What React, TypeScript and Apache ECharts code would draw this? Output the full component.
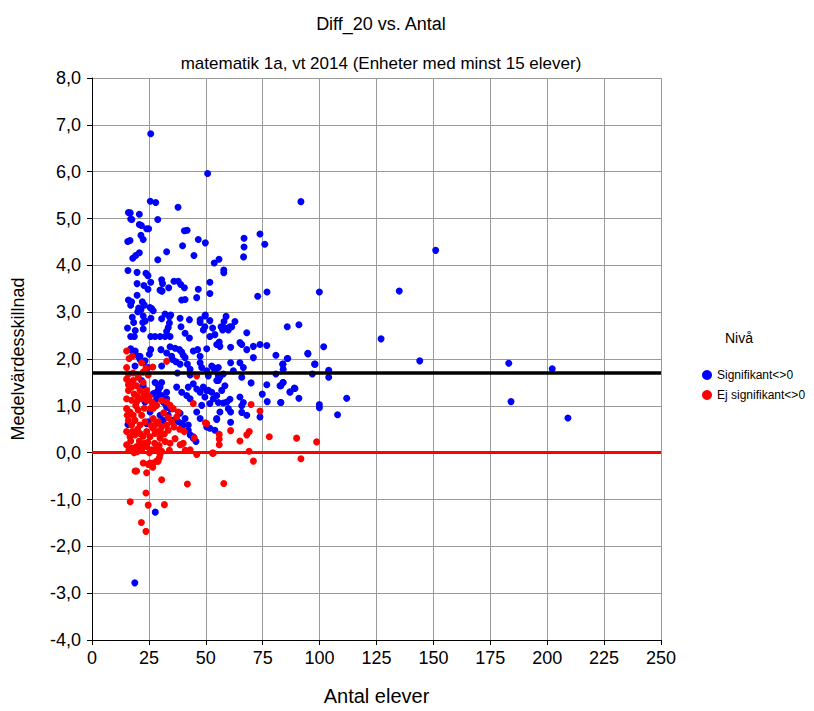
import React, { useEffect, useRef } from "react";
import * as echarts from "echarts";

const xTicks = [0, 25, 50, 75, 100, 125, 150, 175, 200, 225, 250];
const yTicks = [-4, -3, -2, -1, 0, 1, 2, 3, 4, 5, 6, 7, 8];
const meanLine = 1.7;
const zeroLine = 0;

const significant: number[][] = [
  [25.8,6.81],[50.8,5.96],[25.6,5.37],[28.0,5.34],[37.8,5.24],[16.0,5.13],[16.8,5.12],[20.8,5.09],[17.0,4.99],[17.5,4.98],[28.9,4.98],[20.8,4.87],[21.7,4.85],[24.0,4.78],[24.9,4.78],[40.6,4.74],[41.8,4.75],[21.5,4.64],[22.5,4.55],[15.7,4.51],[16.7,4.53],[46.7,4.55],[49.8,4.48],[66.8,4.58],[66.8,4.39],[66.6,4.18],[73.8,4.67],[75.9,4.45],[39.8,4.42],[44.8,4.21],[32.8,4.29],[20.8,4.27],[19.2,4.21],[17.9,4.15],[28.9,4.12],[53.7,4.05],[55.8,4.13],[57.9,3.90],[57.9,3.84],[15.8,3.89],[19.8,3.85],[23.7,3.83],[24.6,3.78],[19.8,3.61],[22.8,3.57],[25.8,3.64],[30.6,3.69],[31.0,3.61],[33.7,3.52],[30.6,3.45],[36.0,3.66],[37.9,3.66],[39.0,3.59],[40.6,3.52],[46.7,3.49],[51.8,3.64],[51.8,3.40],[24.6,3.49],[19.8,3.36],[72.8,3.34],[76.9,3.43],[46.0,3.31],[29.9,3.47],
  [91.8,5.36],[151.0,4.32],[99.9,3.43],[135.0,3.45],[85.8,2.69],[90.9,2.73],[127.0,2.43],[101.8,2.26],[94.9,2.11],[85.8,2.01],[83.9,1.89],[97.8,1.89],[144.0,1.96],[183.1,1.91],[202.2,1.79],[104.0,1.76],[104.0,1.61],[96.8,1.68],[83.9,1.50],[83.0,1.43],[88.9,1.38],[87.0,1.30],[90.9,1.16],[83.0,1.07],[99.9,1.03],[99.9,0.96],[111.9,1.16],[107.9,0.81],[184.1,1.09],[209.1,0.74],
  [49.8,2.94],[51.8,2.82],[58.9,2.91],[62.8,2.80],[56.7,2.69],[60.6,2.69],
  [30.8,3.45],[39.4,3.26],[40.9,3.27],[16.0,3.26],[17.4,3.22],[17.0,3.15],[22.1,3.22],[23.0,3.15],[20.5,3.09],[21.5,3.05],[20.1,3.01],[26.2,3.08],[26.9,3.03],[25.5,3.10],[32.1,2.96],[34.6,2.94],[34.0,2.90],[22.5,2.92],[23.4,2.81],[22.3,2.78],[17.7,2.89],[18.3,2.78],[25.9,2.87],[30.6,2.86],[38.7,2.87],[42.8,2.84],[47.5,2.84],[49.6,2.92],[34.0,2.77],[33.5,2.67],[32.8,2.59],[15.6,2.66],[19.0,2.61],[22.5,2.64],[25.8,2.48],[27.7,2.48],[29.9,2.48],[32.1,2.48],[34.3,2.48],[17.0,2.48],[18.6,2.48],[39.1,2.69],[40.9,2.55],[42.8,2.45],[47.5,2.78],[49.6,2.69],[48.9,2.62],[53.0,2.66],[54.0,2.52],[51.8,2.48],[58.0,2.80],[59.9,2.62],[54.8,2.31],[55.9,2.36],[56.2,2.27],[17.0,2.22],[17.7,2.17],[18.9,2.10],[20.3,2.06],[21.1,1.99],[22.8,1.92],[25.8,2.20],[25.2,2.10],[30.3,2.20],[34.3,2.26],[36.5,2.23],[38.4,2.20],[32.8,2.13],[35.0,2.06],[39.4,2.15],[40.1,2.08],[40.9,2.03],[44.5,2.17],[46.4,2.20],[47.5,2.06],[50.4,2.22],[35.4,1.99],[36.9,1.94],[38.7,1.89],[41.9,1.89],[43.1,1.78],[47.5,1.92],[48.2,1.82],[52.6,1.85],[54.0,1.75],[55.5,1.82],[24.7,1.82],[30.6,1.85],[37.5,1.70],[43.1,1.66],[51.1,1.64],[55.5,1.64],
  [27.7,1.50],[29.9,1.40],[29.1,1.33],[26.9,1.26],[30.6,1.22],[28.4,1.15],[32.8,1.15],[31.3,1.08],[37.2,1.40],[39.4,1.29],[42.3,1.40],[44.5,1.47],[46.0,1.36],[47.5,1.29],[41.6,1.22],[43.1,1.15],[50.4,1.33],[52.6,1.29],[54.8,1.22],[57.0,1.33],[58.4,1.43],[55.5,1.54],[38.7,0.84],[40.9,0.73],[42.3,0.59],[39.4,0.62],[46.0,0.87],[47.5,0.73],[50.4,0.55],[51.8,0.52],[54.0,0.48],[54.8,0.73],[56.2,0.87],[32.8,0.97],[35.0,0.94],[29.9,0.80],[31.3,0.69],[25.5,0.87],[24.0,0.62],[15.8,0.60],[59.2,1.08],[59.9,0.94],
  [57.4,2.62],[58.4,2.66],[61.4,2.69],[68.0,2.56],[60.9,2.25],[65.0,2.35],[65.8,2.31],[68.0,2.20],[70.9,2.03],[70.9,2.27],[73.8,2.31],[76.8,2.29],[80.8,2.08],[86.0,2.01],[83.8,1.89],[94.8,2.12],[98.0,1.89],[60.9,1.92],[65.0,1.92],[66.5,1.82],[62.1,1.75],[65.8,1.61],[50.4,1.75],[53.3,1.82],[57.7,1.68],[56.2,1.61],[54.8,1.54],[80.8,1.68],[84.0,1.78],[69.9,1.49],[76.8,1.45],[82.6,1.43],[84.0,1.50],[87.0,1.29],[89.2,1.37],[74.8,1.25],[48.9,1.40],[51.1,1.33],[53.3,1.15],[55.5,1.07],[57.7,1.06],[49.6,1.19],[48.2,1.01],[51.8,1.05],[60.6,1.14],[65.0,1.19],[66.5,1.07],[65.8,1.00],[77.0,1.09],[82.9,1.07],[60.9,0.87],[65.8,0.86],[68.0,0.80],[73.8,0.76],[54.8,0.71],[60.9,0.65],
  [27.8,-1.27],[18.8,-2.78],[45.7,0.24],[44.5,0.34],
  [19.0,2.17],[21.1,2.06],[23.3,1.96],[18.9,1.85],[21.8,1.54],[22.5,1.43],[24.0,1.22],[23.3,1.08],[24.7,0.66],
  [29.1,1.43],[30.6,1.50],[28.4,1.29],[32.8,1.29],[29.9,1.19],[32.1,1.05],[34.3,0.94],[33.5,0.80],[35.7,0.69],[37.9,0.66],[40.1,0.59],[42.3,0.48],[43.1,0.38],[44.5,0.31]
];

const notSignificant: number[][] = [
  [15.2,2.17],[16.3,2.01],[15.2,1.82],[17.7,2.06],[21.8,1.92],[23.7,1.80],[26.7,1.83],[32.8,1.95],[46.0,1.64],
  [16.0,1.68],[18.1,1.70],[20.3,1.66],[22.5,1.72],[24.7,1.66],
  [15.2,1.57],[16.7,1.50],[18.1,1.54],[20.3,1.61],[22.5,1.50],[19.6,1.43],[17.4,1.40],[16.0,1.33],[21.1,1.33],[24.0,1.33],
  [15.2,1.15],[17.4,1.12],[19.6,1.08],[21.8,1.15],[24.0,1.12],[26.2,1.08],[28.4,1.01],[30.6,1.12],[32.8,1.08],[34.3,1.01],[35.7,0.94],[37.9,0.87],
  [15.2,0.94],[16.7,0.87],[18.1,0.80],[20.3,0.91],[21.8,0.80],[18.9,0.69],[16.0,0.69],[17.4,0.59],[21.1,0.59],[23.3,0.66],[26.9,0.73],[29.1,0.66],[30.6,0.55],[32.8,0.59],[35.0,0.66],[37.2,0.76],
  [15.2,0.45],[16.7,0.34],[18.9,0.38],[21.1,0.41],[24.0,0.45],[25.5,0.34],[27.7,0.41],[29.9,0.31],[32.1,0.24],[34.3,0.20],[38.7,0.17],[40.1,0.20],[43.1,0.06],
  [15.2,0.17],[17.4,0.10],[19.6,0.13],[21.8,0.06],[24.0,0.13],[26.2,0.06],[28.4,0.10],[30.6,0.03],
  [44.5,1.05],[50.4,0.62],[44.9,0.32],
  [22.5,-0.22],[24.7,-0.25],[26.9,-0.22],[29.1,-0.18],[19.6,-0.39],
  [39.4,0.18],[46.0,-0.04],[53.3,-0.01],
  [69.9,1.03],[73.8,0.89],[49.8,0.64],[55.9,0.39],[55.9,0.29],[55.9,0.17],[60.9,0.47],[65.0,0.25],[68.0,0.38],[69.1,0.45],[77.9,0.34],[89.9,0.31],[98.7,0.23],[52.9,-0.01],[69.0,0.03],[70.9,-0.18],[91.8,-0.13],
  [18.9,-0.39],[24.0,-0.43],[25.5,-0.22],[26.7,-0.31],[28.4,-0.18],[29.6,-0.11],[29.9,-0.04],[30.6,-0.58],[41.9,-0.67],[57.9,-0.66],[23.7,-0.86],[16.8,-1.05],[24.7,-1.12],[31.8,-1.11],[21.7,-1.49],[23.7,-1.68],
  [16.0,1.45],[18.5,1.25],[20.0,1.20],[22.8,1.25],[25.2,1.20],[27.0,0.95],[19.2,1.00],[23.0,0.95],[25.8,0.95],[17.8,0.45],[20.0,0.50],[22.5,0.35],[26.8,0.52],[28.8,0.45],[16.2,0.05],[18.5,0.00],[20.8,0.25],[23.0,0.20],[25.2,0.00],[27.5,0.20],[29.5,0.15],[31.8,0.40],[33.5,0.48],[15.5,0.80],[17.0,0.25],[19.8,0.02],[22.0,0.15],[24.5,0.22],[26.0,0.58],[28.0,0.60],[30.0,0.45],[31.5,0.85],[33.5,0.75],[36.0,0.55],[38.5,0.50],[40.5,0.45],[36.5,0.30],[41.0,0.05],[34.0,0.05]
];

const FONT = "Liberation Sans";

export default function App() {
  const ref = useRef<HTMLDivElement>(null);
  useEffect(() => {
    if (!ref.current) return;
    const chart = echarts.init(ref.current, null, { renderer: "svg" });
    chart.setOption({
      animation: false,
      backgroundColor: "#fff",
      textStyle: { fontFamily: FONT },
      title: [
        {
          text: "Diff_20 vs. Antal",
          left: 376,
          top: 10,
          textAlign: "center",
          textStyle: { fontSize: 18, fontWeight: "normal", color: "#000", fontFamily: FONT },
        },
        {
          text: "matematik 1a, vt 2014 (Enheter med minst 15 elever)",
          left: 376,
          top: 50,
          textAlign: "center",
          textStyle: { fontSize: 17, fontWeight: "normal", color: "#000", fontFamily: FONT },
        },
      ],
      legend: {
        data: ["Signifikant<>0", "Ej signifikant<>0"],
        orient: "vertical",
        left: 697,
        top: 364,
        itemWidth: 10,
        itemHeight: 10,
        itemGap: 8,
        icon: "circle",
        textStyle: { fontSize: 12, color: "#000", fontFamily: FONT },
      },
      graphic: [
        {
          type: "text",
          left: 725,
          top: 331,
          style: { text: "Nivå", fontSize: 14, fill: "#000", fontFamily: FONT },
        },
      ],
      grid: { left: 92, right: 153, top: 78, bottom: 57 },
      xAxis: {
        type: "value",
        min: xTicks[0],
        max: xTicks[xTicks.length - 1],
        interval: 25,
        name: "Antal elever",
        nameLocation: "middle",
        nameGap: 46,
        nameTextStyle: { fontSize: 20, color: "#000", fontFamily: FONT },
        axisLine: { show: true, onZero: false, lineStyle: { color: "#000", width: 1 } },
        axisTick: { show: true, length: 5, lineStyle: { color: "#000" } },
        axisLabel: { fontSize: 18, color: "#000", margin: 9, fontFamily: FONT },
        splitLine: { show: true, lineStyle: { color: "#9a9a9a", width: 1 } },
      },
      yAxis: {
        type: "value",
        min: yTicks[0],
        max: yTicks[yTicks.length - 1],
        interval: 1,
        name: "Medelvärdesskillnad",
        nameLocation: "middle",
        nameGap: 65,
        nameTextStyle: { fontSize: 18, color: "#000", fontFamily: FONT },
        axisLine: { show: true, onZero: false, lineStyle: { color: "#000", width: 1 } },
        axisTick: { show: true, length: 5, lineStyle: { color: "#000" } },
        axisLabel: {
          fontSize: 18,
          color: "#000",
          margin: 11,
          fontFamily: FONT,
          formatter: (v: number) => v.toFixed(1).replace(".", ","),
        },
        splitLine: { show: true, lineStyle: { color: "#9a9a9a", width: 1 } },
      },
      series: [
        {
          name: "Signifikant<>0",
          type: "scatter",
          symbol: "circle",
          symbolSize: 7,
          itemStyle: { color: "#0000ff", opacity: 1 },
          data: significant,
          z: 2,
        },
        {
          name: "Ej signifikant<>0",
          type: "scatter",
          symbol: "circle",
          symbolSize: 7,
          itemStyle: { color: "#ff0000", opacity: 1 },
          data: notSignificant,
          z: 3,
        },
        {
          name: "lines",
          type: "scatter",
          data: [],
          z: 5,
          markLine: {
            silent: true,
            symbol: "none",
            label: { show: false },
            data: [
              { yAxis: meanLine, lineStyle: { color: "#000", width: 3.5, type: "solid" } },
              { yAxis: zeroLine, lineStyle: { color: "#ff0000", width: 3, type: "solid" } },
            ],
          },
        },
      ],
    });
    return () => chart.dispose();
  }, []);
  return (
    <div
      ref={ref}
      style={{ position: "fixed", left: 0, top: 0, width: 814, height: 711, background: "#fff" }}
    />
  );
}
